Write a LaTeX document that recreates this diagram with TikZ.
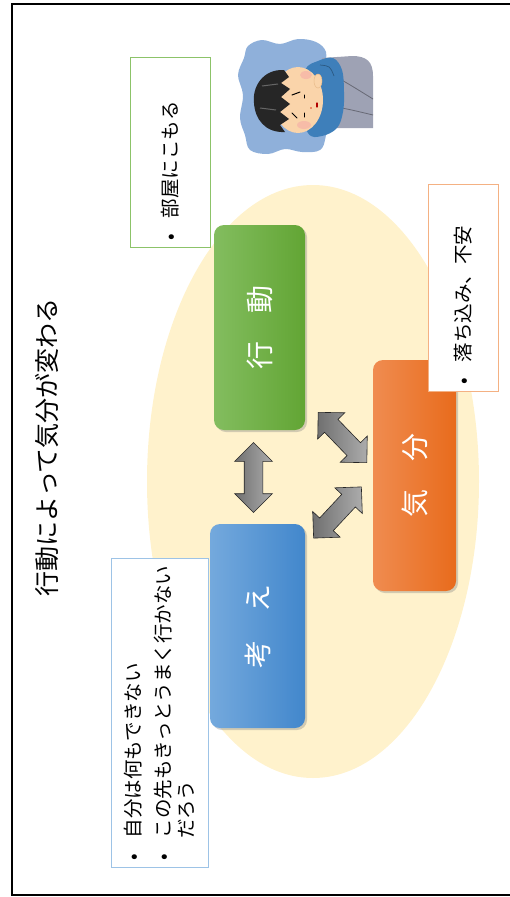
\documentclass[tikz,border=0pt]{standalone}
\usepackage{fontspec}
\setmainfont{Noto Sans CJK JP}
\usetikzlibrary{shapes.arrows,shadows}
\definecolor{MoodOval}{RGB}{255,242,204}
\definecolor{ActLight}{RGB}{131,189,95}
\definecolor{ActDark}{RGB}{98,165,52}
\definecolor{ThinkLight}{RGB}{116,169,221}
\definecolor{ThinkDark}{RGB}{66,135,204}
\definecolor{FeelLight}{RGB}{240,140,80}
\definecolor{FeelDark}{RGB}{232,107,28}
\definecolor{ActLine}{RGB}{140,195,105}
\definecolor{ThinkLine}{RGB}{157,195,230}
\definecolor{FeelLine}{RGB}{244,177,131}
\definecolor{ArrowLight}{RGB}{172,172,172}
\definecolor{ArrowDark}{RGB}{112,112,112}
\definecolor{Blanket}{RGB}{143,176,218}
\definecolor{Sweater}{RGB}{62,127,186}
\definecolor{Pants}{RGB}{158,162,180}
\definecolor{Skin}{RGB}{250,212,170}
\definecolor{Blush}{RGB}{246,178,168}
% bullet, then the item text
\newcommand{\blt}{\makebox[20pt]{•}\hspace{9pt}}

\begin{document}
\begin{tikzpicture}[x=1pt,y=-1pt,
  corebox/.style={rotate=90,rounded corners=10pt,text=white,inner sep=0pt,
    font=\fontsize{28}{30}\selectfont,
    drop shadow={opacity=0.35,shadow xshift=2pt,shadow yshift=-2pt}},
  notebox/.style={rotate=90,draw,fill=white,line width=0.8pt,align=left,
    inner xsep=0pt,inner ysep=0pt,font=\fontsize{19.5}{23}\selectfont},
  swaparrow/.style={double arrow,double arrow head extend=9.5pt,inner xsep=0pt,
    inner ysep=9pt,minimum height=70pt,draw=black!85,line width=0.6pt,
    left color=ArrowDark,right color=ArrowLight}]
  \useasboundingbox (0,0) rectangle (509,897);
  \draw[line width=2pt] (520,3.5) -- (12,3.5) -- (12,895) -- (520,895);

  \node[rotate=90,font=\fontsize{25}{28}\selectfont] (title) at (47,447) {行動によって気分が変わる};

  % background oval
  \fill[MoodOval] (313,481.5) ellipse [x radius=166,y radius=296.5];

  % the three boxes
  \node[corebox,minimum width=205pt,minimum height=91pt,left color=ActLight,right color=ActDark] (act) at (259.5,327.5) {行\quad 動};
  \node[corebox,minimum width=204pt,minimum height=95pt,left color=ThinkLight,right color=ThinkDark] (think) at (257.5,626) {考\quad え};
  \node[corebox,minimum width=231pt,minimum height=83pt,left color=FeelLight,right color=FeelDark] (feel) at (414.5,475.5) {気\quad 分};

  % arrows between them
  \node[swaparrow,rotate=90] (actthink) at (253.5,477.5) {};
  \node[swaparrow,rotate=-46] (actfeel) at (342.5,437.5) {};
  \node[swaparrow,rotate=47] (thinkfeel) at (337.5,512.5) {};

  % notes
  \node[notebox,draw=ActLine,minimum width=190pt,minimum height=80pt,text width=190pt] (actnote) at (170,152) {\blt 部屋にこもる};
  \node[notebox,draw=FeelLine,minimum width=207pt,minimum height=70pt,text width=207pt] (feelnote) at (463,287.5) {\blt 落ち込み、不安};
  \node[notebox,draw=ThinkLine,minimum width=309pt,minimum height=97pt,text width=309pt] (thinknote) at (159.5,712.5) {\blt 自分は何もできない\\[7pt]
    \blt この先もきっとうまく行かない\\
    \hspace{29pt}だろう};

  % person lying under a blanket
  \fill[Blanket] plot[smooth cycle,tension=0.6] coordinates {(248,46) (262,40) (280,44) (298,39) (316,42) (326,52) (325,70) (330,100) (326,135) (320,150) (302,152) (285,149) (268,154) (250,150) (245,135) (240,118) (243,95) (238,75) (244,58)};
  \fill[Pants] (322,58) -- (352,56) .. controls (367,56) and (373,62) .. (373,76) -- (373,128) -- (322,128) -- cycle;
  \draw[Pants!65!black,line width=0.8pt] (340,79) .. controls (352,86) .. (373,99);
  \draw[Pants!65!black,line width=0.8pt] (337,107) .. controls (352,110) .. (373,115);
  \fill[Sweater] plot[smooth cycle,tension=0.6] coordinates {(305,70) (318,61) (333,58) (342,70) (344,92) (343,112) (337,128) (322,136) (308,133) (300,100)};
  \draw[Sweater!70!black,line width=0.7pt] (320,65) .. controls (330,66) .. (334,76);
  \fill[Skin] (298,100) ellipse [x radius=25,y radius=33];
  \fill[Blush,opacity=0.7] (306,75) ellipse [x radius=6,y radius=4];
  \fill[Blush,opacity=0.7] (304,125) ellipse [x radius=7,y radius=4];
  \fill[Skin] (318,81) ellipse [x radius=4,y radius=7];
  \draw[Skin!70!brown,line width=0.5pt] (318,81) ellipse [x radius=4,y radius=7];
  \fill[black!85] (284,70) .. controls (262,69) and (252,88) .. (254,103) .. controls (255,119) and (265,133) .. (285,132) -- (280,125) -- (289,119) -- (280,112) -- (290,104) -- (281,97) -- (290,89) -- (281,83) -- (289,77) -- cycle;
  \draw[black!60,line width=1pt] (262,86) -- (278,84);
  \draw[black!60,line width=1pt] (260,108) -- (276,110);
  \draw[line width=1pt,line cap=round] (292,95) -- (300,92);
  \draw[line width=1pt,line cap=round] (304,95) -- (304,98);
  \draw[line width=1pt,line cap=round] (292,113) -- (297,118);
  \draw[line width=1pt,line cap=round] (304,113) -- (304,117);
  \draw[red!70!black,line width=1.2pt,line cap=round] (317,103) -- (317,107);
  \fill[red!50!brown] (311,108) circle (0.8);
\end{tikzpicture}
\end{document}
